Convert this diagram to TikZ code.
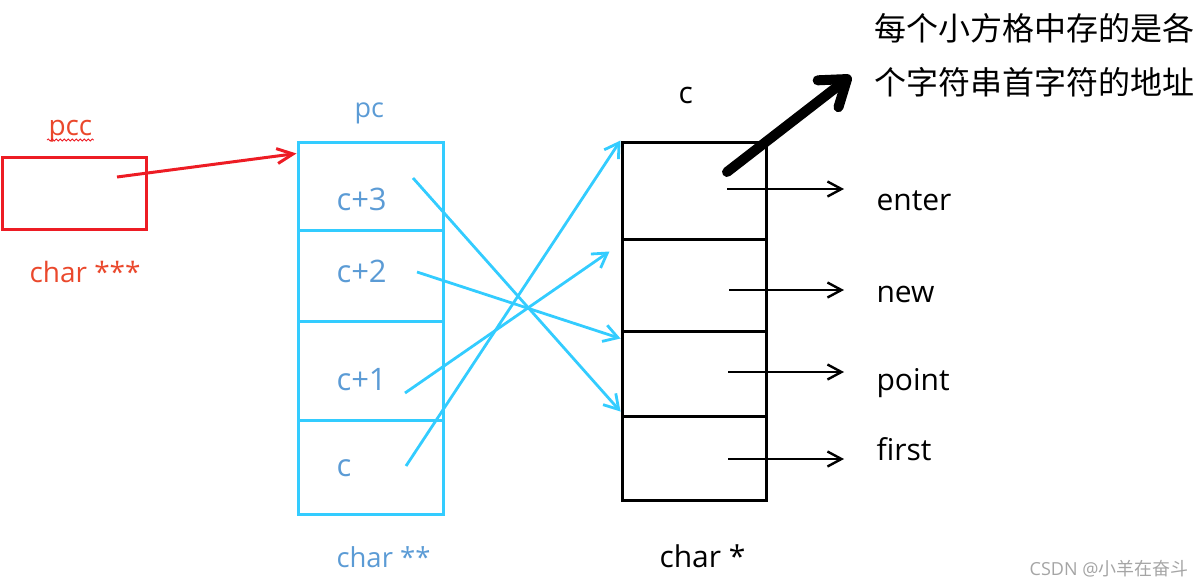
\documentclass[tikz,border=0pt]{standalone}
\usepackage{fontspec}
\setmainfont{Open Sans}
\newfontfamily\cjk{Noto Sans CJK SC}
\usepackage{tikz}
\usetikzlibrary{arrows.meta,positioning,calc,decorations.pathmorphing}
\definecolor{ptrred}{RGB}{237,28,36}
\definecolor{lblred}{RGB}{234,72,44}
\definecolor{cellblue}{RGB}{51,204,255}
\definecolor{lblblue}{RGB}{91,155,213}
\definecolor{markgray}{RGB}{165,165,165}

\begin{document}
\begin{tikzpicture}[x=1pt,y=-1pt,line width=3pt,
  cellbox/.style={draw,inner sep=0pt,minimum width=145pt},
  lbl/.style={inner sep=0pt,anchor=base west,font=\fontsize{30}{36}\selectfont},
  bluearrow/.style={cellblue,line width=2.8pt,-{Straight Barb[length=14pt,width=17pt]}},
  ptrarrow/.style={black,line width=2.4pt,shorten >=31pt,-{Straight Barb[length=14pt,width=15pt]}}]
\useasboundingbox (0,0) rectangle (1203,587);
\node[draw=ptrred,minimum width=144pt,minimum height=72pt,inner sep=0pt] (pccbox) at (74,193) {};
\node[lbl,text=lblred,font=\fontsize{28}{32}\selectfont] (pcclbl) at (47,135) {pcc};
\draw[ptrred,line width=0.8pt,decorate,decoration={snake,amplitude=1pt,segment length=4pt}] ([yshift=-5pt]pcclbl.base west) -- ([yshift=-5pt]pcclbl.base east);
\node[lbl,text=lblred,font=\fontsize{28}{32}\selectfont] (pcctype) at (28,282) {char ***};
\foreach \i/\t/\b in {3/142/230,2/230/321,1/321/420,0/420/514}
  \node[cellbox,draw=cellblue,minimum height={\b-\t}] (pc\i) at (370.5,{(\t+\b)/2}) {};
\foreach \i/\w/\y in {3/c+3/210,2/c+2/282,1/c+1/390,0/c/476}
  \node[lbl,text=lblblue,font=\fontsize{31}{36}\selectfont] (pclbl\i) at (335,\y) {\w};
\node[lbl,text=lblblue,font=\fontsize{27}{30}\selectfont] (pcname) at (353,117) {pc};
\node[lbl,text=lblblue,font=\fontsize{27.5}{30}\selectfont] (pctype) at (335,567) {char **};
\foreach \i/\t/\b in {0/142/239,1/239/331,2/331/416,3/416/500}
  \node[cellbox,draw=black,minimum width=144pt,minimum height={\b-\t}] (cc\i) at (694,{(\t+\b)/2}) {};
\node[lbl] (cname) at (677,103) {c};
\node[lbl] (ctype) at (658,567) {char *};
\foreach \i/\x/\y/\w/\bl in {0/727/189/enter/210,1/729/290/new/302,2/728/372/point/390,3/728/459/first/460}{
  \coordinate (ptr\i) at (\x,\y);
  \node[lbl] (str\i) at (875,\bl) {\w};
  \draw[ptrarrow] (ptr\i) -- (ptr\i -| str\i.west);
}
\coordinate (pccptr) at (117,177);
\draw[ptrred,-{Straight Barb[length=16pt,width=15pt]}] (pccptr) -- ([yshift=-13pt]pc3.north west);
\coordinate (from3) at (413,178);
\coordinate (from2) at (417,272);
\coordinate (from1) at (405,393);
\coordinate (from0) at (406,466);
\draw[bluearrow] (from3) -- ([yshift=3pt]cc3.north west);
\draw[bluearrow] (from2) -- ([yshift=-9pt]cc2.north west);
\draw[bluearrow] (from1) -- ([shift={(-11pt,-14pt)}]cc1.north west);
\draw[bluearrow] (from0) -- (cc0.north west);
\node[anchor=west,align=left,inner sep=0pt,font=\cjk\fontsize{32}{54}\selectfont] (note) at (873,55) {每个小方格中存的是各\\个字符串首字符的地址};
\coordinate (notefrom) at (727,172);
\coordinate (notetip) at (851,76);
\draw[line width=10pt,line cap=round,-{Straight Barb[length=24pt,width=34pt,round]}] (notefrom) -- (notetip);
\node[anchor=east,inner sep=0pt,text=markgray,font=\fontsize{18}{20}\selectfont] (mark) at (1190,569) {CSDN @{\cjk 小羊在奋斗}};
\end{tikzpicture}
\end{document}
